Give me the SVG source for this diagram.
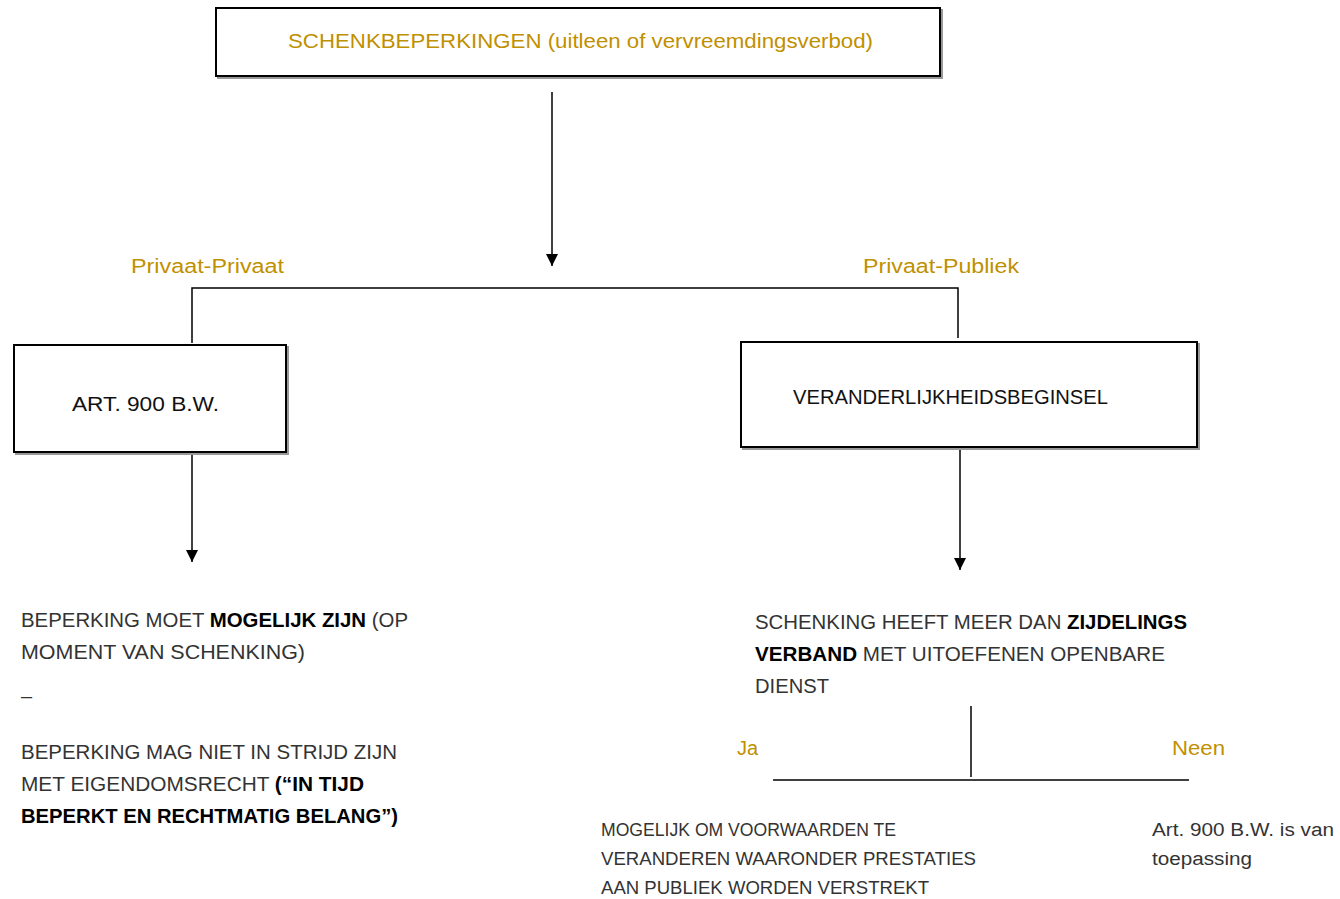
<svg xmlns="http://www.w3.org/2000/svg" width="1340" height="899" viewBox="0 0 1340 899">
<defs>
<style>
text{font-family:"Liberation Sans",Arial,sans-serif;}
.box{fill:#fff;stroke:#000;stroke-width:2;}
.sh{fill:none;stroke:#999;stroke-width:2;}
.gold{fill:#BF9000;font-size:20px;}
.t{fill:#333;font-size:20px;}
.b{fill:#000;font-weight:bold;}
.s{fill:#333;font-size:18px;}
.ln{stroke:#000;stroke-width:1.5;fill:none;}
</style>
<marker id="ah" viewBox="0 0 10 10" refX="10" refY="5" markerWidth="12" markerHeight="12" markerUnits="userSpaceOnUse" orient="auto"><path d="M0,0 L10,5 L0,10 z" fill="#000"/></marker>
</defs>
<rect width="1340" height="899" fill="#fff"/>
<g id="connectors">
<line class="ln" x1="552" y1="92" x2="552" y2="266" marker-end="url(#ah)"/>
<polyline class="ln" points="192,343 192,288 958,288 958,338"/>
<line class="ln" x1="192" y1="452" x2="192" y2="562" marker-end="url(#ah)"/>
<line class="ln" x1="960" y1="447" x2="960" y2="570" marker-end="url(#ah)"/>
<line class="ln" x1="971" y1="706" x2="971" y2="777"/>
<line class="ln" x1="773" y1="780" x2="1189" y2="780" stroke-width="2"/>
</g>
<g id="top">
<rect class="sh" x="218" y="10" width="724" height="68"/>
<rect class="box" x="216" y="8" width="724" height="68"/>
<text class="gold" x="288" y="48" textLength="585" lengthAdjust="spacingAndGlyphs">SCHENKBEPERKINGEN (uitleen of vervreemdingsverbod)</text>
</g>
<g id="label-privaat-privaat"><text class="gold" x="131" y="273" textLength="153" lengthAdjust="spacingAndGlyphs">Privaat-Privaat</text></g>
<g id="label-privaat-publiek"><text class="gold" x="863" y="273" textLength="156" lengthAdjust="spacingAndGlyphs">Privaat-Publiek</text></g>
<g id="art900">
<rect class="sh" x="16" y="347" width="272" height="107"/>
<rect class="box" x="14" y="345" width="272" height="107"/>
<text class="t" x="72" y="411" style="fill:#111" textLength="147" lengthAdjust="spacingAndGlyphs">ART. 900 B.W.</text>
</g>
<g id="veranderlijkheid">
<rect class="sh" x="743" y="344" width="456" height="105"/>
<rect class="box" x="741" y="342" width="456" height="105"/>
<text class="t" x="793" y="404" style="fill:#111" textLength="315" lengthAdjust="spacingAndGlyphs">VERANDERLIJKHEIDSBEGINSEL</text>
</g>
<g id="left-text">
<text class="t" x="21" y="627" textLength="387" lengthAdjust="spacingAndGlyphs">BEPERKING MOET <tspan class="b">MOGELIJK ZIJN</tspan> (OP</text>
<text class="t" x="21" y="659" textLength="284" lengthAdjust="spacingAndGlyphs">MOMENT VAN SCHENKING)</text>
<text class="t" x="21" y="703">–</text>
<text class="t" x="21" y="759" textLength="376" lengthAdjust="spacingAndGlyphs">BEPERKING MAG NIET IN STRIJD ZIJN</text>
<text class="t" x="21" y="791" textLength="343" lengthAdjust="spacingAndGlyphs">MET EIGENDOMSRECHT <tspan class="b">(“IN TIJD</tspan></text>
<text class="t b" x="21" y="823" textLength="377" lengthAdjust="spacingAndGlyphs">BEPERKT EN RECHTMATIG BELANG”)</text>
</g>
<g id="right-text">
<text class="t" x="755" y="629" textLength="432" lengthAdjust="spacingAndGlyphs">SCHENKING HEEFT MEER DAN <tspan class="b">ZIJDELINGS</tspan></text>
<text class="t" x="755" y="661" textLength="410" lengthAdjust="spacingAndGlyphs"><tspan class="b">VERBAND</tspan> MET UITOEFENEN OPENBARE</text>
<text class="t" x="755" y="693" textLength="74" lengthAdjust="spacingAndGlyphs">DIENST</text>
</g>
<g id="label-ja"><text class="gold" x="737" y="755">Ja</text></g>
<g id="label-neen"><text class="gold" x="1172" y="755" textLength="53" lengthAdjust="spacingAndGlyphs">Neen</text></g>
<g id="ja-text">
<text class="s" x="601" y="836" textLength="295" lengthAdjust="spacingAndGlyphs">MOGELIJK OM VOORWAARDEN TE</text>
<text class="s" x="601" y="865" textLength="375" lengthAdjust="spacingAndGlyphs">VERANDEREN WAARONDER PRESTATIES</text>
<text class="s" x="601" y="894" textLength="328" lengthAdjust="spacingAndGlyphs">AAN PUBLIEK WORDEN VERSTREKT</text>
</g>
<g id="neen-text">
<text class="s" x="1152" y="836" textLength="182" lengthAdjust="spacingAndGlyphs">Art. 900 B.W. is van</text>
<text class="s" x="1152" y="865" textLength="100" lengthAdjust="spacingAndGlyphs">toepassing</text>
</g>
</svg>
